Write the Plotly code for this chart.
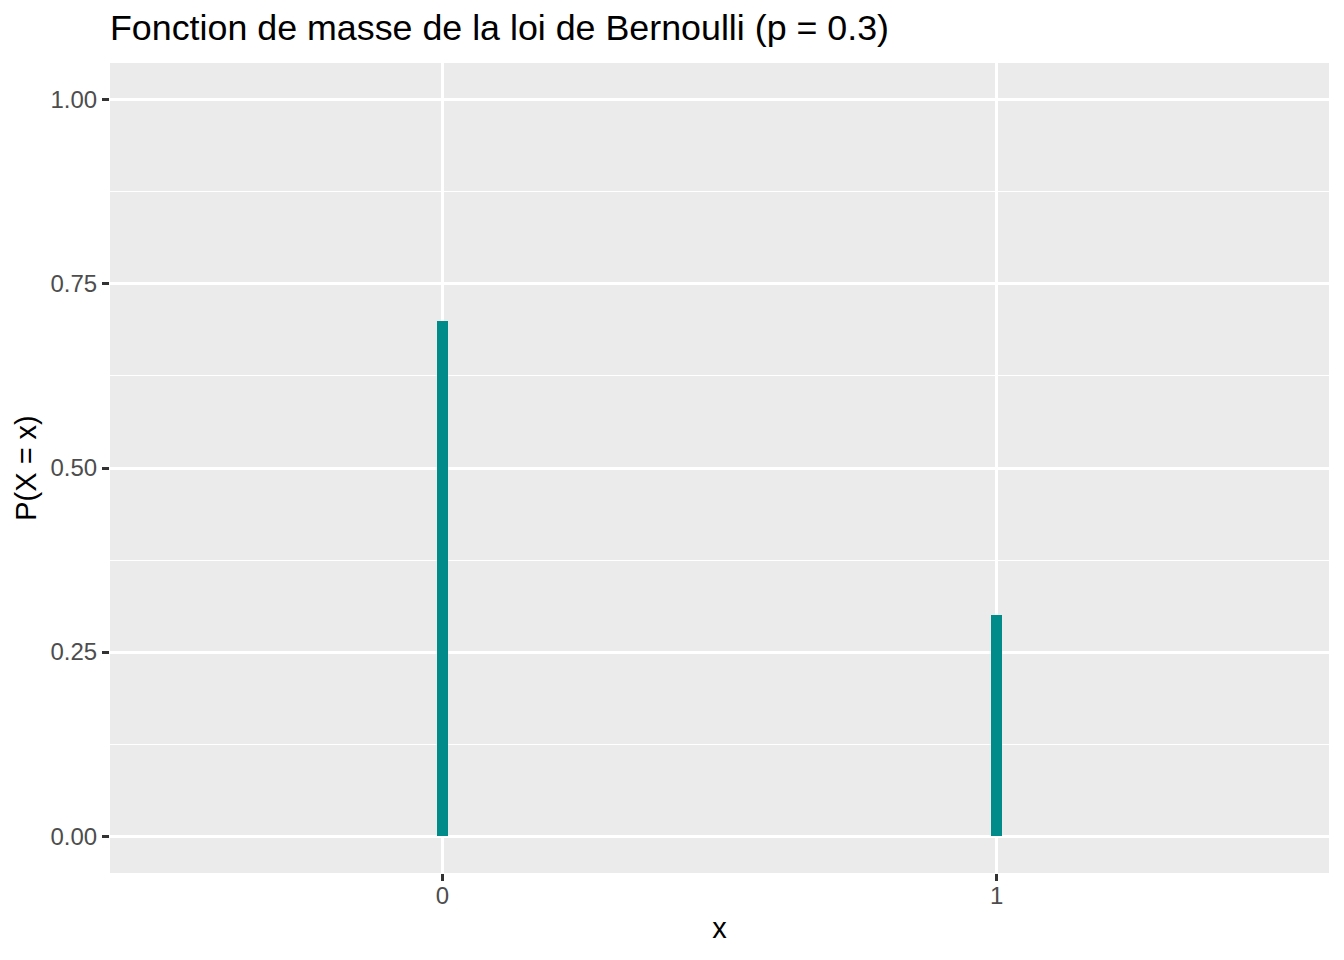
import plotly.graph_objects as go

x_vals = [0, 1]
probs = [0.7, 0.3]
x_ticks = [0, 1]
x_tick_labels = ["0", "1"]
y_ticks = [0.0, 0.25, 0.5, 0.75, 1.0]
y_tick_labels = ["0.00", "0.25", "0.50", "0.75", "1.00"]
y_minor = [0.125, 0.375, 0.625, 0.875]

FONT = "Liberation Sans, Arial, Helvetica, sans-serif"

# page body has an 8px margin: compensate so the figure lands at the same place
W, H = 1336, 952

fig = go.Figure()
fig.add_trace(go.Bar(
    x=x_vals, y=probs, width=0.02,
    marker=dict(color="#008B8B", line=dict(width=0)),
    showlegend=False,
))

fig.update_layout(
    width=W, height=H,
    margin=dict(l=102, r=15, t=55, b=87),
    paper_bgcolor="white",
    plot_bgcolor="#EBEBEB",
    font=dict(family=FONT, color="black"),
    title=dict(
        text="Fonction de masse de la loi de Bernoulli (p = 0.3)",
        font=dict(size=35.8, color="black", family=FONT),
        x=0, xref="paper", xanchor="left",
        y=1 - 19 / H, yref="container", yanchor="middle",
    ),
    bargap=0,
)

fig.update_xaxes(
    range=[-0.6, 1.6],
    tickvals=x_ticks, ticktext=x_tick_labels,
    ticks="outside", ticklen=7, tickwidth=2.5, tickcolor="#333333",
    tickfont=dict(size=24, color="#4D4D4D", family=FONT),
    ticklabelstandoff=-6,
    showgrid=True, gridcolor="white", gridwidth=2.7,
    zeroline=False, showline=False,
    title=dict(text="x", font=dict(size=29, color="black", family=FONT), standoff=9),
)

fig.update_yaxes(
    range=[-0.05, 1.05],
    tickvals=y_ticks, ticktext=y_tick_labels,
    ticks="outside", ticklen=7, tickwidth=2.5, tickcolor="#333333",
    tickfont=dict(size=24, color="#4D4D4D", family=FONT),
    showgrid=True, gridcolor="white", gridwidth=2.7,
    minor=dict(tickvals=y_minor, showgrid=True, gridcolor="white", gridwidth=1.3, ticks=""),
    zeroline=False, showline=False,
    title=dict(text="P(X = x)", font=dict(size=29, color="black", family=FONT), standoff=5),
)

fig.write_html("out.html")
